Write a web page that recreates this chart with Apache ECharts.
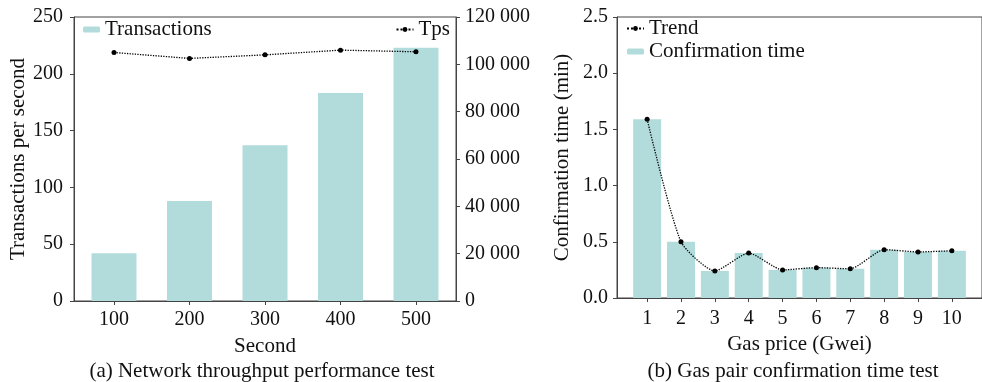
<!DOCTYPE html>
<html>
<head>
<meta charset="utf-8">
<script src="https://cdn.jsdelivr.net/npm/echarts@6/dist/echarts.min.js"></script>
<style>
  html, body { margin: 0; padding: 0; background: #fff; overflow: hidden; }
  #chart { width: 982px; height: 382px; }
</style>
</head>
<body>
<div id="chart"></div>
<script>
// (a) 吞吐量
const seconds = [100, 200, 300, 400, 500];
const transactions = [42, 88, 137, 183, 223];
const tps = [105000, 102500, 104000, 106000, 105300];
const leftTicks = [0, 50, 100, 150, 200, 250];
const rightTicks = [0, 20000, 40000, 60000, 80000, 100000, 120000];

// (b) 确认时间
const gasPrice = [1, 2, 3, 4, 5, 6, 7, 8, 9, 10];
const confirmTime = [1.59, 0.5, 0.24, 0.4, 0.25, 0.27, 0.26, 0.43, 0.41, 0.42];
const trend = [1.59, 0.5, 0.24, 0.4, 0.25, 0.27, 0.26, 0.43, 0.41, 0.42];

const FONT = "'Liberation Serif', 'Times New Roman', 'DejaVu Serif', serif";
const AXIS = "#444";
const BAR = "#b2dcdc";
const tickTxt = { fontFamily: FONT, fontSize: 20, color: "#111" };
const txt = { fontFamily: FONT, fontSize: 21, color: "#111" };

const axisLine = { show: true, lineStyle: { color: AXIS, width: 1 } };
const axisTick = { show: true, length: 4, lineStyle: { color: AXIS } };

// 千位用空格分隔
const spaced = (v) => String(v).replace(/\B(?=(\d{3})+(?!\d))/g, " ");

const options = {
  animation: false,
  textStyle: { fontFamily: FONT },
  grid: [
    { left: 74, top: 17, width: 382, height: 284, show: true, borderColor: AXIS, borderWidth: 1 },
    { left: 617, top: 17, width: 377, height: 281, show: true, borderColor: AXIS, borderWidth: 1 },
  ],
  legend: [
    {
      data: ["Transactions"],
      left: 83, top: 19, padding: 0,
      itemWidth: 17, itemHeight: 6,
      textStyle: txt,
    },
    {
      data: ["Tps"],
      right: 532, top: 19, padding: 0,
      itemWidth: 17, itemHeight: 6,
      textStyle: txt,
    },
    {
      data: ["Trend", "Confirmation time"],
      orient: "vertical",
      left: 626, top: 18, padding: 0, itemGap: 2,
      itemWidth: 17, itemHeight: 6,
      textStyle: txt,
    },
  ],
  xAxis: [
    {
      type: "value",
      gridIndex: 0,
      min: 47, max: 553,
      name: "Second",
      nameLocation: "middle",
      nameGap: 35,
      nameTextStyle: txt,
      axisLine, axisTick: { ...axisTick, customValues: seconds },
      splitLine: { show: false },
      axisLabel: { ...tickTxt, margin: 9, customValues: seconds },
    },
    {
      type: "value",
      gridIndex: 1,
      min: 0.11, max: 10.89,
      name: "Gas price (Gwei)",
      nameLocation: "middle",
      nameGap: 36,
      nameTextStyle: txt,
      axisLine, axisTick: { ...axisTick, customValues: gasPrice },
      splitLine: { show: false },
      axisLabel: { ...tickTxt, margin: 11, customValues: gasPrice },
    },
  ],
  yAxis: [
    {
      type: "value",
      gridIndex: 0,
      min: leftTicks[0], max: leftTicks[leftTicks.length - 1], interval: 50,
      name: "Transactions per second",
      nameLocation: "middle",
      nameGap: 43,
      nameTextStyle: txt,
      axisLine, axisTick,
      splitLine: { show: false },
      axisLabel: { ...tickTxt, margin: 11 },
    },
    {
      type: "value",
      gridIndex: 0,
      position: "right",
      min: rightTicks[0], max: rightTicks[rightTicks.length - 1], interval: 20000,
      axisLine, axisTick,
      splitLine: { show: false },
      axisLabel: { ...tickTxt, margin: 9, formatter: spaced },
    },
    {
      type: "value",
      gridIndex: 1,
      min: 0, max: 2.5, interval: 0.5,
      name: "Confirmation time (min)",
      nameLocation: "middle",
      nameGap: 44,
      nameTextStyle: txt,
      axisLine, axisTick,
      splitLine: { show: false },
      axisLabel: { ...tickTxt, margin: 9, formatter: (v) => v.toFixed(1) },
    },
  ],
  graphic: [
    {
      type: "text",
      style: { text: "(a) Network throughput performance test", x: 262, y: 371, align: "center", verticalAlign: "middle", fontFamily: FONT, fontSize: 21, fill: "#111" },
    },
    {
      type: "text",
      style: { text: "(b) Gas pair confirmation time test", x: 793, y: 371, align: "center", verticalAlign: "middle", fontFamily: FONT, fontSize: 21, fill: "#111" },
    },
  ],
  series: [
    {
      name: "Transactions",
      type: "bar",
      xAxisIndex: 0, yAxisIndex: 0,
      barWidth: 45,
      itemStyle: { color: BAR },
      data: seconds.map((s, i) => [s, transactions[i]]),
    },
    {
      name: "Tps",
      type: "line",
      xAxisIndex: 0, yAxisIndex: 1,
      symbol: "circle", symbolSize: 5,
      itemStyle: { color: "#000" },
      lineStyle: { color: "#000", width: 1.3, type: "dotted" },
      data: seconds.map((s, i) => [s, tps[i]]),
    },
    {
      name: "Confirmation time",
      type: "bar",
      xAxisIndex: 1, yAxisIndex: 2,
      barWidth: 28,
      itemStyle: { color: BAR },
      data: gasPrice.map((g, i) => [g, confirmTime[i]]),
    },
    {
      name: "Trend",
      type: "line",
      xAxisIndex: 1, yAxisIndex: 2,
      smooth: 0.2,
      symbol: "circle", symbolSize: 5,
      itemStyle: { color: "#000" },
      lineStyle: { color: "#000", width: 1.3, type: "dotted" },
      data: gasPrice.map((g, i) => [g, trend[i]]),
      z: 5,
    },
  ],
};

const chart = echarts.init(document.getElementById("chart"));
chart.setOption(options);
</script>
</body>
</html>
